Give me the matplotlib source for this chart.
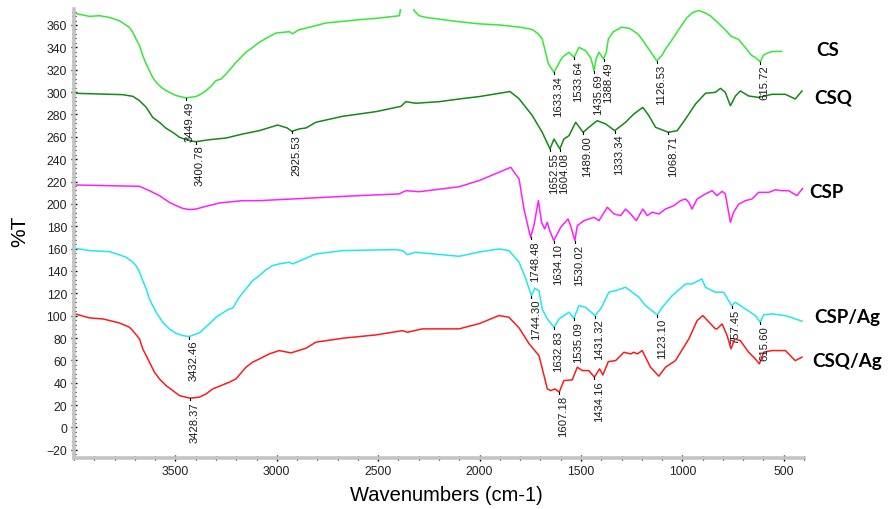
import numpy as np
import matplotlib
matplotlib.use("Agg")
import matplotlib.pyplot as plt
from matplotlib.ticker import MultipleLocator
from matplotlib import font_manager

# ---------------- FTIR spectra (wavenumber, %T with vertical offsets) ----------------
cs_wn = [3995, 3924, 3874, 3825, 3776, 3727, 3710, 3694, 3677, 3661, 3644, 3628, 3612, 3595, 3570,
         3546, 3513, 3497, 3449.49, 3398, 3373, 3349, 3324, 3300, 3275, 3250, 3226, 3201, 3176, 3152,
         3119, 3086, 3053, 3004, 2938, 2922, 2889, 2840, 2758, 2594, 2495,
         2395, 2375, 2335, 2323, 2298, 2265, 2101, 2000, 1900, 1800, 1740, 1710, 1691, 1660,
         1633.34, 1592, 1559, 1533.64, 1510, 1477, 1450, 1435.69, 1425, 1411, 1388.49, 1375,
         1365, 1340, 1300, 1260, 1220, 1198, 1160, 1126.53, 1100, 1083, 1050, 1010, 980, 950,
         920, 890, 860, 830, 790, 760, 722, 690, 660, 640, 615.72, 600, 580, 557, 510]
cs_t = [370.4, 367.7, 368.3, 366.8, 363.8, 357.9, 353.4, 347.5, 341.5, 332.6, 325.1, 319.2, 313.2, 308.8, 304.3,
        301.3, 298.3, 296.9, 294.8, 296.0, 298.3, 301.3, 305.2, 310.2, 311.7, 316.2, 321.2, 326.6, 331.1, 335.6,
        340.0, 344.5, 348.1, 352.8, 354.0, 352.2, 355.8, 357.9, 361.8, 364.7, 366.2,
        368.3, 392.0, 392.0, 372.8, 368.3, 366.8, 362.9, 361.0, 360.0, 358.0, 356.0, 352.0, 347.4, 325.0,
        317.7, 331.1, 335.6, 331.1, 340.0, 337.0, 330.0, 319.0, 330.0, 335.6, 329.6, 335.6,
        347.4, 354.0, 358.0, 357.0, 352.0, 347.0, 337.0, 328.0, 333.0, 338.5, 347.0, 358.0, 366.0, 371.0,
        373.0, 371.0, 368.0, 363.0, 356.0, 350.0, 347.0, 340.0, 333.0, 331.0, 327.0, 333.0, 335.0, 336.2, 336.4]

csq_wn = [3995, 3760, 3710, 3677, 3644, 3628, 3612, 3579, 3546, 3513, 3480, 3447, 3400.78, 3332, 3250,
          3168, 3086, 2996, 2950, 2925.53, 2890, 2856, 2807, 2676, 2511, 2388, 2364, 2314, 2200, 2101,
          2000, 1900, 1850, 1805, 1740, 1691, 1652.55, 1633, 1604.08, 1584, 1559, 1526, 1489.00, 1461,
          1420, 1378, 1333.34, 1280, 1239, 1195, 1165, 1132, 1068.71, 1025, 984, 935, 886, 837, 812,
          788, 763, 738, 714, 673, 624, 558, 492, 443, 410]
csq_t = [298.9, 297.7, 296.2, 292.3, 286.4, 281.9, 277.4, 273.0, 267.6, 264.0, 259.6, 257.4, 255.6, 257.4, 258.9,
         262.5, 265.5, 270.5, 268.0, 264.9, 267.0, 267.9, 273.0, 278.3, 282.5, 287.2, 291.4, 290.0, 291.4, 293.8,
         296.0, 299.0, 300.5, 294.0, 279.0, 264.0, 249.2, 258.0, 249.2, 258.0, 261.0, 273.0, 264.0, 268.5,
         274.4, 271.5, 265.5, 273.0, 280.4, 286.3, 278.9, 268.5, 264.0, 265.5, 276.0, 289.3, 298.9, 299.8, 303.3,
         299.8, 287.8, 296.5, 301.0, 296.5, 295.2, 298.0, 298.0, 293.8, 301.0]

csp_wn = [3995, 3677, 3628, 3579, 3530, 3497, 3464, 3431, 3398, 3366, 3283, 3168, 3086, 2922, 2758,
          2594, 2397, 2364, 2298, 2101, 2000, 1904, 1846, 1805, 1781, 1748.48, 1732, 1710, 1694, 1679,
          1666, 1654, 1634.10, 1600, 1564, 1551, 1530.02, 1518, 1485, 1461, 1436, 1411, 1370, 1337,
          1304, 1280, 1255, 1227, 1195, 1173, 1149, 1116, 1083, 1042, 1009, 984, 968, 952, 927, 886,
          853, 829, 804, 788, 763, 747, 722, 689, 656, 624, 574, 541, 508, 476, 435, 407]
csp_t = [216.9, 215.7, 211.8, 207.4, 201.4, 198.5, 196.0, 194.9, 195.4, 197.0, 200.8, 202.9, 202.9, 204.4, 205.9,
         207.4, 208.9, 211.8, 210.9, 215.3, 221.0, 228.3, 232.7, 222.2, 195.4, 170.0, 180.5, 202.9, 183.5, 177.6,
         183.5, 176.1, 167.1, 179.0, 186.5, 180.5, 167.1, 180.5, 185.0, 186.5, 188.0, 185.0, 197.0, 191.0,
         189.5, 195.4, 191.0, 185.0, 195.4, 189.5, 192.5, 191.0, 195.4, 198.4, 202.9, 204.4, 201.4, 195.4, 204.4, 208.9,
         211.8, 207.4, 211.2, 208.9, 183.5, 192.5, 199.8, 202.9, 204.4, 210.3, 210.3, 212.6, 211.8, 211.8, 207.4, 213.7]

cspag_wn = [3995, 3924, 3825, 3743, 3710, 3694, 3677, 3661, 3644, 3628, 3612, 3595, 3563, 3530, 3497,
            3464, 3432.46, 3382, 3333, 3300, 3267, 3234, 3218, 3185, 3152, 3119, 3086, 3053, 3021, 2988,
            2938, 2922, 2856, 2807, 2676, 2413, 2380, 2356, 2314, 2101, 2000, 1904, 1855,
            1805, 1772, 1744.30, 1727, 1707, 1691, 1666, 1632.83, 1608, 1559, 1535.09, 1510, 1477,
            1431.32, 1403, 1362, 1329, 1280, 1247, 1214, 1182, 1123.10, 1099, 1050, 984, 952, 904,
            886, 837, 796, 757.45, 738, 689, 640, 615.60, 599, 558, 492, 410]
cspag_t = [160.3, 158.2, 157.3, 152.3, 147.8, 144.8, 138.9, 131.4, 123.9, 115.0, 109.0, 103.1, 94.2, 88.2, 84.3,
           82.2, 81.3, 84.6, 92.6, 98.6, 102.5, 106.0, 106.7, 116.5, 123.9, 131.4, 135.8, 141.2, 144.8, 146.3,
           147.8, 146.3, 151.4, 155.2, 158.2, 159.1, 158.2, 154.6, 156.7, 153.1, 157.0, 159.7, 158.2,
           147.8, 132.9, 117.9, 124.5, 122.4, 106.0, 97.1, 89.6, 97.1, 103.1, 97.7, 109.0, 107.5,
           100.1, 106.0, 121.0, 122.4, 125.4, 121.0, 116.5, 109.0, 100.7, 107.5, 117.9, 128.4, 128.4, 132.9,
           125.4, 121.0, 121.0, 109.0, 112.0, 106.0, 100.1, 94.2, 100.7, 101.6, 100.1, 95.1]

csqag_wn = [3995, 3924, 3858, 3776, 3727, 3710, 3677, 3661, 3644, 3628, 3603, 3579, 3546, 3513, 3480,
            3428.37, 3382, 3349, 3316, 3283, 3234, 3201, 3152, 3119, 3086, 3037, 2988, 2930, 2856, 2807,
            2676, 2511, 2380, 2356, 2282, 2101, 2000, 1904, 1855, 1805,
            1756, 1707, 1682, 1666, 1649, 1628, 1607.18, 1584, 1543, 1518, 1493, 1461, 1434.16, 1408,
            1392, 1365, 1329, 1288, 1255, 1239, 1222, 1198, 1157, 1116, 1083, 1034, 968, 927, 899, 837,
            829, 804, 779, 760, 742, 714, 673, 640, 620, 599, 558, 492, 443, 410]
csqag_t = [101.6, 98.0, 97.1, 93.5, 89.7, 86.6, 79.2, 70.3, 64.3, 58.4, 49.4, 43.5, 37.5, 33.0, 28.5,
           26.2, 27.1, 30.0, 34.5, 36.9, 40.5, 43.5, 53.9, 58.4, 61.3, 65.8, 68.8, 66.7, 70.9, 76.3,
           79.8, 82.8, 86.6, 85.2, 88.2, 88.2, 93.0, 100.1, 98.6, 89.0,
           75.0, 64.3, 46.4, 34.5, 33.0, 34.5, 31.6, 41.9, 42.6, 53.9, 50.9, 50.9, 45.0, 52.4,
           47.0, 58.9, 59.8, 67.3, 65.8, 67.3, 65.8, 68.8, 53.9, 45.9, 53.9, 59.8, 79.2, 95.6, 100.1, 88.2,
           88.2, 92.6, 82.2, 70.3, 79.2, 77.7, 67.3, 61.3, 56.9, 67.3, 68.8, 68.8, 59.8, 62.9]

# labelled band positions (cm-1)
cs_peaks = [3449.49, 1633.34, 1533.64, 1435.69, 1388.49, 1126.53, 615.72]
csq_peaks = [3400.78, 2925.53, 1652.55, 1604.08, 1489.00, 1333.34, 1068.71]
csp_peaks = [1748.48, 1634.10, 1530.02]
cspag_peaks = [3432.46, 1744.30, 1632.83, 1535.09, 1431.32, 1123.10, 757.45, 615.60]
csqag_peaks = [3428.37, 1607.18, 1434.16]

names = ["CS", "CSQ", "CSP", "CSP/Ag", "CSQ/Ag"]
y_ticks = list(range(-20, 361, 20))
x_ticks = [3500, 3000, 2500, 2000, 1500, 1000, 500]

# ---------------- fonts ----------------
available = {f.name for f in font_manager.fontManager.ttflist}
narrow = "Liberation Sans Narrow" if "Liberation Sans Narrow" in available else "Liberation Sans"
plt.rcParams["font.family"] = ["Liberation Sans", "DejaVu Sans"]

W, H = 894, 510
fig = plt.figure(figsize=(W / 100, H / 100), dpi=100)
ax = fig.add_axes([74 / W, 1 - 459 / H, (804 - 74) / W, (459 - 10) / H])

series = [
    (cs_wn, cs_t, cs_peaks, "#33ea33"),
    (csq_wn, csq_t, csq_peaks, "#138a13"),
    (csp_wn, csp_t, csp_peaks, "#ff1eff"),
    (cspag_wn, cspag_t, cspag_peaks, "#1ee8f0"),
    (csqag_wn, csqag_t, csqag_peaks, "#ff1a1a"),
]

for wn, t, peaks, col in series:
    wn = np.asarray(wn, float)
    t = np.asarray(t, float)
    order = np.argsort(wn)[::-1]
    wn, t = wn[order], t[order]
    ax.plot(wn, t, color=col, lw=1.1, solid_joinstyle="round")
    for p in peaks:
        yv = np.interp(p, wn[::-1], t[::-1])
        ax.plot([p, p], [yv, yv - 1.8], color="black", lw=0.8)
        ax.annotate(f"{p:.2f}", xy=(p, yv), xytext=(-0.5, -2), textcoords="offset points",
                    rotation=90, ha="left", va="top", fontsize=8.1, family=narrow,
                    color="#1a1a1a")

ax.set_xlim(4000, 400)
ax.set_ylim(-27.3, 374.3)
ax.set_xticks(x_ticks)
ax.set_yticks(y_ticks)
ax.xaxis.set_minor_locator(MultipleLocator(100))
ax.yaxis.set_minor_locator(MultipleLocator(4))

for side in ("top", "right"):
    ax.spines[side].set_visible(False)
for side in ("left", "bottom"):
    ax.spines[side].set_color("#c4c4c4")
    ax.spines[side].set_linewidth(2.6)

ax.tick_params(axis="both", which="major", direction="inout", length=4, width=1.0,
               color="black", labelsize=8.8, labelcolor="#222222", pad=3)
ax.tick_params(axis="both", which="minor", direction="inout", length=2.5, width=0.9, color="black")
for lab in ax.get_xticklabels() + ax.get_yticklabels():
    lab.set_family(narrow)

fig.text(20 / W, 1 - 231 / H, "%T", rotation=90, ha="center", va="center", fontsize=15)
fig.text(446 / W, 1 - 496 / H, "Wavenumbers (cm-1)", ha="center", va="center",
         fontsize=14.5, family=narrow)

# series names at the right end of each trace
name_pos = [(816, 50), (814, 98), (809, 193), (814, 317), (812, 362)]
for nm, (px, py) in zip(names, name_pos):
    fig.text(px / W, 1 - py / H, nm, ha="left", va="center", fontsize=13.5,
             fontweight="bold", family=["Lato", "DejaVu Sans"])

fig.savefig("out.png", dpi=100)
